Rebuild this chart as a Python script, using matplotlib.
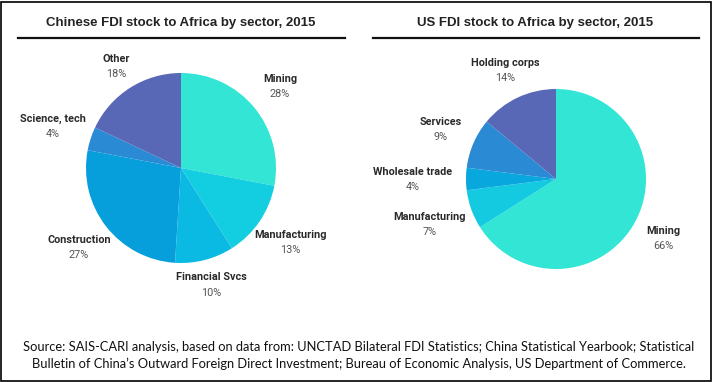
import numpy as np
import matplotlib
matplotlib.use("Agg")
import matplotlib.pyplot as plt
from matplotlib.patches import Rectangle
from matplotlib.lines import Line2D

# ---- data ----
cn_title = "Chinese FDI stock to Africa by sector, 2015"
cn_labels = ["Mining", "Manufacturing", "Financial Svcs", "Construction", "Science, tech", "Other"]
cn_values = [28, 13, 10, 27, 4, 18]
cn_colors = ["#32E5D5", "#13CEE0", "#0BBAE2", "#069FDC", "#2A8AD4", "#5868B6"]

us_title = "US FDI stock to Africa by sector, 2015"
us_labels = ["Mining", "Manufacturing", "Wholesale trade", "Services", "Holding corps"]
us_values = [66, 7, 4, 9, 14]
us_colors = ["#32E5D5", "#13CAE0", "#08A8DE", "#2A8AD4", "#5868B6"]

source = ("Source: SAIS-CARI analysis, based on data from: UNCTAD Bilateral FDI Statistics; China Statistical Yearbook; Statistical\n"
          "Bulletin of China\u2019s Outward Foreign Direct Investment; Bureau of Economic Analysis, US Department of Commerce.")

W, H = 712, 382
fig = plt.figure(figsize=(W / 100, H / 100), dpi=100)
fig.patch.set_facecolor("white")

LBL_FONT = "Roboto"
TITLE_FONT = "Liberation Sans"


def pie_axes(cx, cy, r, k=1.8):
    half = r * k
    ax = fig.add_axes([(cx - half) / W, (H - cy - half) / H, 2 * half / W, 2 * half / H])
    return ax, k


def draw_pie(cx, cy, r, values, labels, colors, dists):
    ax, k = pie_axes(cx, cy, r)
    wedges, _ = ax.pie(values, colors=colors, startangle=90, counterclock=False,
                       wedgeprops=dict(linewidth=0))
    ax.set_xlim(-k, k)
    ax.set_ylim(-k, k)
    ax.set_aspect("equal")
    ax.axis("off")
    for w, lab, v, d in zip(wedges, labels, values, dists):
        ang = np.deg2rad((w.theta1 + w.theta2) / 2)
        x, y = d * np.cos(ang), d * np.sin(ang)
        ax.text(x, y + 0.08, lab, ha="center", va="center", fontsize=7.8,
                fontweight="bold", color="#2a2a2a", family=LBL_FONT)
        ax.text(x, y - 0.085, f"{v}%", ha="center", va="center", fontsize=7.8,
                color="#555555", family=LBL_FONT)
    return ax


draw_pie(181, 168, 95, cn_values, cn_labels, cn_colors, [1.35, 1.39, 1.27, 1.36, 1.42, 1.27])
draw_pie(556, 179, 90, us_values, us_labels, us_colors, [1.36, 1.49, 1.59, 1.40, 1.33])

# titles
fig.text(181 / W, 1 - 23 / H, cn_title, ha="center", va="center", fontsize=9.5,
         fontweight="bold", color="#222222", family=TITLE_FONT)
fig.text(535 / W, 1 - 23 / H, us_title, ha="center", va="center", fontsize=9.5,
         fontweight="bold", color="#222222", family=TITLE_FONT)
fig.add_artist(Line2D([18 / W, 345 / W], [1 - 37.5 / H] * 2, color="#111111", lw=1.6))
fig.add_artist(Line2D([373 / W, 699 / W], [1 - 37.5 / H] * 2, color="#111111", lw=1.6))

# source
fig.text(359 / W, 1 - 355.5 / H, source, ha="center", va="center", fontsize=9.3,
         color="#111111", family="Lato", linespacing=1.35)

# border
fig.add_artist(Rectangle((1 / W, 1 / H), (W - 2.5) / W, (H - 2.5) / H, transform=fig.transFigure,
                         fill=False, edgecolor="black", lw=1.2))

fig.savefig("out.png", dpi=100)
